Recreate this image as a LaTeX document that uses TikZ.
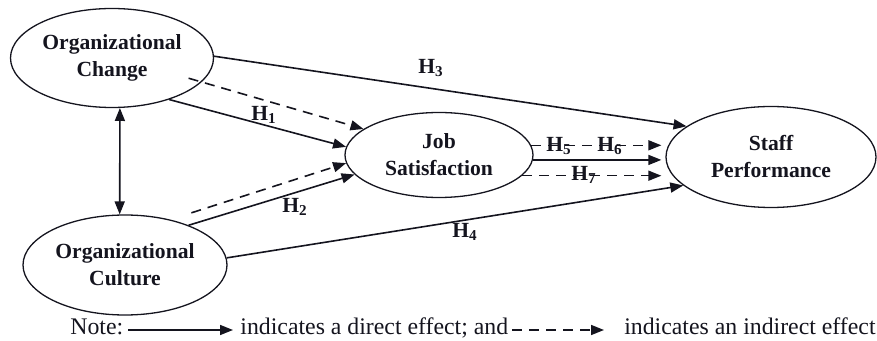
\documentclass[tikz,border=0pt]{standalone}
\usepackage{fontspec}
\setmainfont{Liberation Serif}
\usepackage{tikz}
\usetikzlibrary{arrows.meta,shapes.geometric,positioning,calc}
\definecolor{inkDark}{RGB}{20,20,30}
\tikzset{
  construct/.style={
    ellipse, draw=inkDark, line width=0.65pt, inner sep=0pt,
    align=center, text=inkDark, font=\fontsize{10.8}{13.5}\selectfont\bfseries
  },
  directArrow/.style={->, >={Triangle[length=6.5pt,width=5pt]}, line width=0.8pt, draw=inkDark},
  indirectArrow/.style={directArrow, dash pattern=on 5pt off 3.5pt},
  hypLabel/.style={inner sep=0pt, text=inkDark, font=\fontsize{10.8}{12}\selectfont\bfseries},
  noteText/.style={inner sep=0pt, text=inkDark, font=\fontsize{11.9}{14}\selectfont}
}
\begin{document}
\begin{tikzpicture}[x=0.5pt, y=-0.5pt]
  \useasboundingbox (0,0) rectangle (877,341);
  % constructs
  \node[construct, minimum width=101.5pt, minimum height=49.5pt] (oc) at (112,58) {Organizational\\Change};
  \node[construct, minimum width=102pt, minimum height=50pt] (cu) at (125,265) {Organizational\\Culture};
  \node[construct, minimum width=94pt, minimum height=42.5pt] (js) at (439,155) {Job\\Satisfaction};
  \node[construct, minimum width=105pt, minimum height=50.5pt] (sp) at (771,157) {Staff\\Performance};
  % paths
  \draw[directArrow, <->] (oc.-81) -- (cu.96);
  \draw[directArrow] (oc.1) -- (sp.160);
  \draw[indirectArrow, shorten <=-6.8pt] (oc.-15) -- (js.161);
  \draw[directArrow] (oc.-36) -- (js.175);
  \draw[indirectArrow, shorten <=11pt] (cu.45) -- (js.-175);
  \draw[directArrow] (cu.32) -- (js.-167);
  \draw[directArrow] (cu.4) -- (sp.-162);
  \draw[indirectArrow, shorten >=2pt] (js.6) -- (js.6 -| sp.west);
  \draw[directArrow, shorten >=2pt] (js.-3) -- (js.-3 -| sp.west);
  \draw[indirectArrow, shorten >=2pt] (js.-14) -- (js.-14 -| sp.west);
  % hypotheses
  \node[hypLabel] (h1) at (264,115) {H\textsubscript{1}};
  \node[hypLabel] (h2) at (295,207) {H\textsubscript{2}};
  \node[hypLabel] (h3) at (431,68) {H\textsubscript{3}};
  \node[hypLabel] (h4) at (465,232) {H\textsubscript{4}};
  \node[hypLabel] (h5) at (559,146) {H\textsubscript{5}};
  \node[hypLabel] (h6) at (610,146) {H\textsubscript{6}};
  \node[hypLabel] (h7) at (584,175) {H\textsubscript{7}};
  % note
  \node[noteText, anchor=base west] (note) at (70,335) {Note:};
  \coordinate (dStart) at (128,330);
  \coordinate (dEnd) at (233,330);
  \draw[directArrow] (dStart) -- (dEnd);
  \node[noteText, anchor=base west] (dirText) at (240,335) {indicates a direct effect; and};
  \coordinate (iStart) at (512,330);
  \coordinate (iEnd) at (604,330);
  \draw[indirectArrow] (iStart) -- (iEnd);
  \node[noteText, anchor=base east] (indText) at (876,335) {indicates an indirect effect};
\end{tikzpicture}
\end{document}
